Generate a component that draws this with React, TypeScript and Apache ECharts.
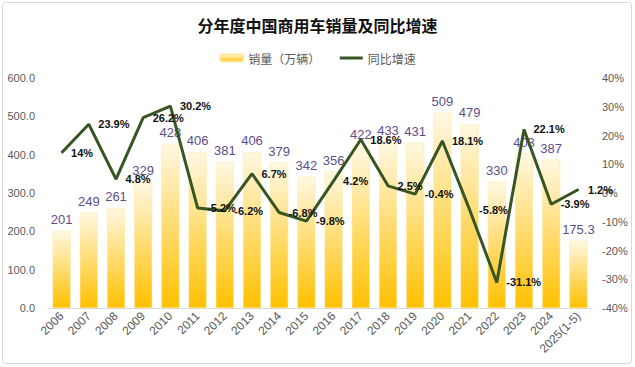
import React, { useEffect, useRef } from "react";
import * as echarts from "echarts";

const categories = [
  "2006", "2007", "2008", "2009", "2010", "2011", "2012", "2013", "2014", "2015",
  "2016", "2017", "2018", "2019", "2020", "2021", "2022", "2023", "2024", "2025(1-5)",
];
const sales = [201, 249, 261, 329, 428, 406, 381, 406, 379, 342, 356, 422, 433, 431, 509, 479, 330, 403, 387, 175.3];
const growth = [14, 23.9, 4.8, 26.2, 30.2, -5.2, -6.2, 6.7, -6.8, -9.8, 4.2, 18.6, 2.5, -0.4, 18.1, -5.8, -31.1, 22.1, -3.9, 1.2];
const leftTicks = { min: 0, max: 600, interval: 100 };
const rightTicks = { min: -40, max: 40, interval: 10 };

const FONT = "'Liberation Sans', 'Noto Sans CJK SC', sans-serif";

export default function App() {
  const ref = useRef<HTMLDivElement>(null);
  useEffect(() => {
    if (!ref.current) return;
    const chart = echarts.init(ref.current, undefined, { renderer: "svg" });
    chart.setOption({
      animation: false,
      backgroundColor: "#ffffff",
      textStyle: { fontFamily: FONT },
      graphic: [
        {
          type: "rect",
          shape: { x: 2.5, y: 2.5, width: 629, height: 361, r: 3 },
          style: { fill: "none", stroke: "#d9d9d9", lineWidth: 1 },
          silent: true,
        },
      ],
      title: {
        text: "分年度中国商用车销量及同比增速",
        left: "center",
        top: 12,
        textStyle: {
          fontFamily: "'Noto Sans CJK SC', sans-serif",
          fontSize: 16,
          fontWeight: "bold",
          color: "#111111",
        },
      },
      legend: {
        top: 47,
        left: "center",
        itemWidth: 23,
        itemHeight: 7,
        itemGap: 18,
        textStyle: { color: "#595959", fontSize: 12, fontFamily: "'Noto Sans CJK SC', sans-serif" },
        data: [
          { name: "销量（万辆）" },
          { name: "同比增速", itemStyle: { opacity: 0 }, lineStyle: { width: 3 } },
        ],
      },
      grid: { left: 48, right: 43, top: 78, bottom: 59, containLabel: false },
      xAxis: {
        type: "category",
        data: categories,
        axisLine: { lineStyle: { color: "#d9d9d9", width: 1 } },
        axisTick: { show: false },
        axisLabel: { rotate: 45, color: "#595959", fontSize: 12, margin: 6, interval: 0 },
      },
      yAxis: [
        {
          type: "value",
          ...leftTicks,
          splitLine: { show: false },
          axisLine: { show: false },
          axisTick: { show: false },
          axisLabel: {
            color: "#595959",
            fontSize: 11,
            margin: 13,
            formatter: (v: number) => v.toFixed(1),
          },
        },
        {
          type: "value",
          ...rightTicks,
          splitLine: { show: false },
          axisLine: { show: false },
          axisTick: { show: false },
          axisLabel: { color: "#595959", fontSize: 11, margin: 10, formatter: "{value}%" },
        },
      ],
      series: [
        {
          name: "销量（万辆）",
          type: "bar",
          data: sales,
          barWidth: "66%",
          itemStyle: {
            color: new echarts.graphic.LinearGradient(0, 0, 0, 1, [
              { offset: 0, color: "#fff8e3" },
              { offset: 1, color: "#ffc000" },
            ]),
            borderColor: "#ffe699",
            borderWidth: 0.5,
          },
          label: {
            show: true,
            position: "top",
            distance: 5,
            color: "#5e4d8a",
            fontSize: 13,
          },
          z: 2,
        },
        {
          name: "同比增速",
          type: "line",
          yAxisIndex: 1,
          data: growth,
          symbol: "circle",
          symbolSize: 1,
          showSymbol: true,
          lineStyle: { color: "#375623", width: 3 },
          itemStyle: { color: "#375623" },
          label: {
            show: true,
            position: "right",
            distance: 9,
            color: "#111111",
            fontSize: 11,
            fontWeight: "bold",
            formatter: (p: any) => `${p.value}%`,
          },
          z: 3,
        },
      ],
    });
    return () => chart.dispose();
  }, []);
  return (
    <div style={{ position: "absolute", left: 0, top: 0, width: 635, height: 367 }}>
      <div ref={ref} style={{ width: 635, height: 367 }} />
    </div>
  );
}
